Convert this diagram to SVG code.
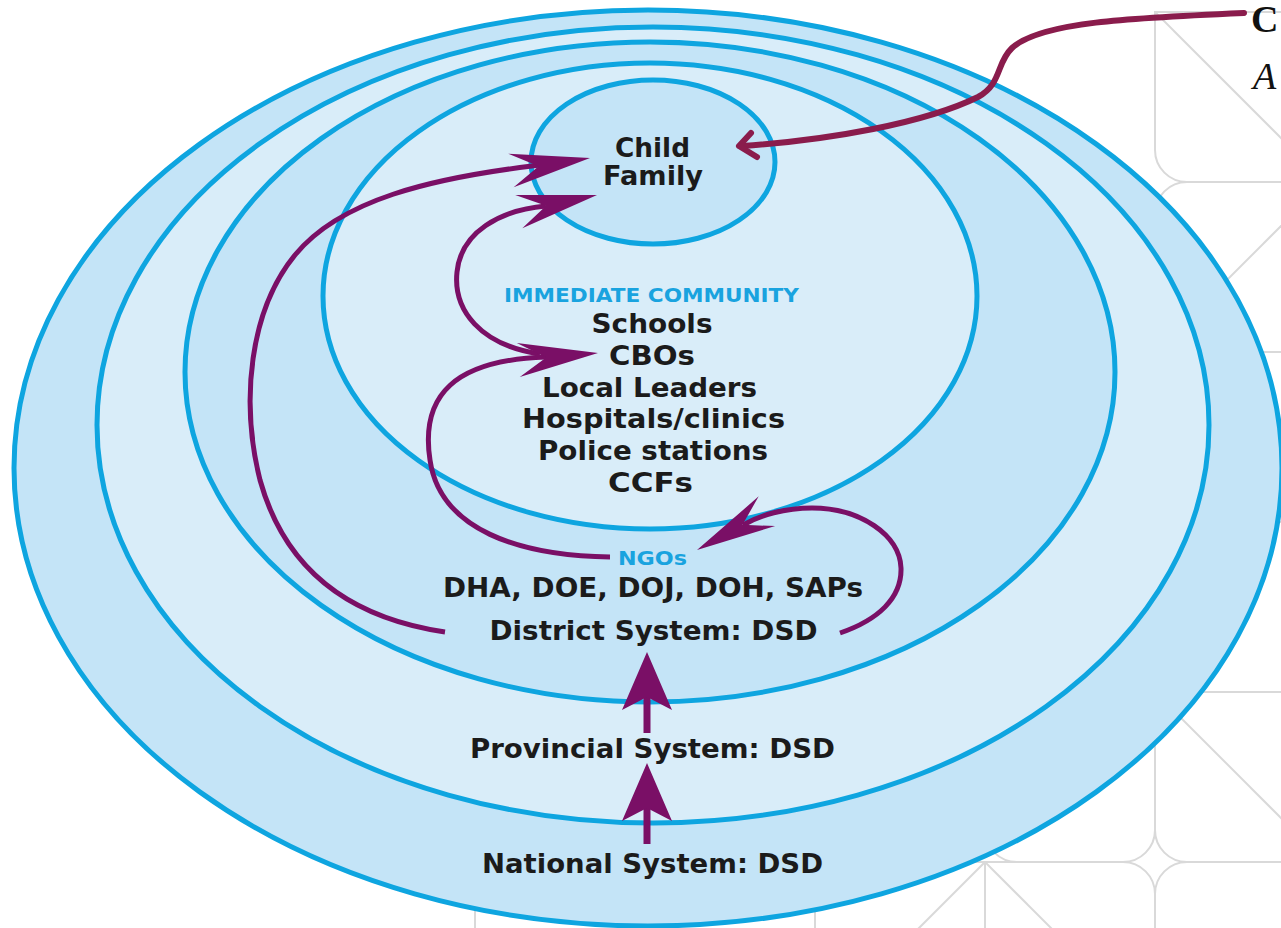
<svg xmlns="http://www.w3.org/2000/svg" width="1281" height="928" viewBox="0 0 1281 928">
<style>
.bg{fill:none;stroke:#d9d9d9;stroke-width:2}
.ring{stroke:#0ea5e0;stroke-width:5}
.dk{fill:#c4e4f7}
.lt{fill:#d9edf9}
.lbl{font-family:"DejaVu Sans","Liberation Sans",sans-serif;font-weight:bold;fill:#1b1b1b;text-anchor:middle;font-size:26px}
.hd{font-family:"DejaVu Sans","Liberation Sans",sans-serif;font-weight:bold;fill:#19a3df;text-anchor:middle}
.con{fill:none;stroke:#7a0f66;stroke-width:5}
.vcon{fill:none;stroke:#7a0f66;stroke-width:7}
.ah{fill:#7a0f66}
.mar{fill:none;stroke:#8a1c4c;stroke-width:6;stroke-linecap:round;stroke-linejoin:round}
</style>
<defs>
<path id="ahc" d="M0,0 L-80,-17 L-52,0 L-80,17 Z"/>
<path id="ahv" d="M0,0 L-58,-25 L-45,0 L-58,25 Z"/>
</defs>
<rect width="1281" height="928" fill="#ffffff"/>
<g id="background-pattern" class="bg">
<path d="M1330,12 H1155 V150 A32,32 0 0 0 1187,182 H1330"/>
<path d="M1155,12 L1330,187"/>
<path d="M1330,182 H1187 A32,32 0 0 0 1155,214 V320 A32,32 0 0 0 1187,352 H1330"/>
<path d="M1325,182 L1155,352"/>
<path d="M1330,352 H1187 A32,32 0 0 0 1155,384 V490 A32,32 0 0 0 1187,522 H1330"/>
<path d="M1330,522 H1187 A32,32 0 0 0 1155,554 V660 A32,32 0 0 0 1187,692 H1330"/>
<path d="M1330,692 H1155 V830 A32,32 0 0 0 1187,862 H1330"/>
<path d="M1155,692 L1330,867"/>
<rect x="985" y="692" width="170" height="170" rx="32"/>
<path d="M1330,862 H1187 A32,32 0 0 0 1155,894 V940"/>
<path d="M985,940 V862 H1123 A32,32 0 0 1 1155,894 V940"/>
<path d="M985,862 L1063,940"/>
<path d="M985,862 L907,940"/>
<path d="M985,862 H847 A32,32 0 0 0 815,894 V940"/>
<path d="M815,894 A32,32 0 0 0 783,862 H677 A32,32 0 0 0 645,894 V940"/>
<path d="M645,894 A32,32 0 0 0 613,862 H507 A32,32 0 0 0 475,894 V940"/>
</g>
<g id="national">
<ellipse class="ring dk" cx="648" cy="468" rx="634" ry="458"/>
<text class="lbl" x="652.5" y="873" textLength="341" lengthAdjust="spacingAndGlyphs">National System: DSD</text>
</g>
<g id="provincial">
<ellipse class="ring lt" cx="653" cy="425" rx="556" ry="398"/>
<text class="lbl" x="652.5" y="758" textLength="365" lengthAdjust="spacingAndGlyphs">Provincial System: DSD</text>
</g>
<g id="district">
<ellipse class="ring dk" cx="650" cy="372" rx="465" ry="330"/>
<text class="hd" x="652.5" y="565" font-size="19" textLength="69" lengthAdjust="spacingAndGlyphs">NGOs</text>
<text class="lbl" x="653" y="597" textLength="420" lengthAdjust="spacingAndGlyphs">DHA, DOE, DOJ, DOH, SAPs</text>
<text class="lbl" x="653.5" y="640" textLength="328" lengthAdjust="spacingAndGlyphs">District System: DSD</text>
</g>
<g id="community">
<ellipse class="ring lt" cx="650" cy="296" rx="327" ry="233"/>
<text class="hd" x="651.5" y="302" font-size="20" textLength="295" lengthAdjust="spacingAndGlyphs">IMMEDIATE COMMUNITY</text>
<text class="lbl" x="652" y="333" textLength="121" lengthAdjust="spacingAndGlyphs">Schools</text>
<text class="lbl" x="652" y="365" textLength="86" lengthAdjust="spacingAndGlyphs">CBOs</text>
<text class="lbl" x="649.5" y="397" textLength="215" lengthAdjust="spacingAndGlyphs">Local Leaders</text>
<text class="lbl" x="653.5" y="428" textLength="263" lengthAdjust="spacingAndGlyphs">Hospitals/clinics</text>
<text class="lbl" x="653" y="460" textLength="230" lengthAdjust="spacingAndGlyphs">Police stations</text>
<text class="lbl" x="650.5" y="492" textLength="85" lengthAdjust="spacingAndGlyphs">CCFs</text>
</g>
<g id="child-family">
<ellipse class="ring dk" cx="653" cy="162" rx="122" ry="82"/>
<text class="lbl" x="652.5" y="157" textLength="75" lengthAdjust="spacingAndGlyphs">Child</text>
<text class="lbl" x="653" y="185" textLength="100" lengthAdjust="spacingAndGlyphs">Family</text>
</g>
<g id="connectors">
<path class="con" d="M445,632 C350,618 285,570 260,480 C240,400 250,310 295,255 C340,200 430,178 540,165"/>
<path class="con" d="M540,354 C480,345 453,310 457,272 C461,232 500,210 546,206"/>
<path class="con" d="M610,557 C520,556 440,530 430,460 C420,395 455,360 546,357"/>
<path class="con" d="M840,633 C878,620 902,598 901,568 C900,535 860,508 812,508 C785,508 760,515 743,525"/>
<path class="vcon" d="M647,733 V695"/>
<path class="vcon" d="M647,844 V806"/>
<use class="ah" href="#ahc" transform="translate(590,158) rotate(-9)"/>
<use class="ah" href="#ahc" transform="translate(597,195) rotate(-12)"/>
<use class="ah" href="#ahc" transform="translate(598,353) rotate(-5)"/>
<use class="ah" href="#ahc" transform="translate(697,550) rotate(151)"/>
<use class="ah" href="#ahv" transform="translate(647,652) rotate(-90)"/>
<use class="ah" href="#ahv" transform="translate(647,763) rotate(-90)"/>
<path class="mar" d="M1244,13 C1130,18 1040,22 1012,48 C996,63 1002,84 978,97 C925,123 830,140 742,146"/>
<path class="mar" d="M751,133 L739,146 L757,157"/>
</g>
<g id="title">
<text x="1251" y="32" font-family="'Liberation Serif',serif" font-weight="bold" font-size="38" fill="#111111">C</text>
<text x="1253" y="89" font-family="'Liberation Serif',serif" font-style="italic" font-size="38" fill="#111111">A</text>
</g>
</svg>
